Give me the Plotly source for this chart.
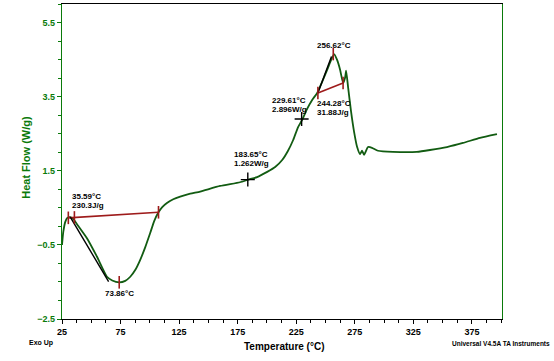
import plotly.graph_objects as go

# ---- Data ----
temperature = [25.0, 26.1, 27.8, 29.5, 32.1, 34.6, 38.9, 46.3, 54.9, 63.4, 67.9, 73.9, 79.0,
               83.3, 87.5, 91.7, 96.1, 100.3, 103.8, 107.4, 110.6, 114.6, 120.0, 125.9, 134.5,
               143.0, 160.0, 177.0, 184.0, 191.6, 200.2, 207.0, 213.0, 218.0, 222.4, 226.6,
               230.0, 234.3, 238.6, 242.9, 247.1, 251.4, 254.8, 257.3, 259.9, 262.5, 265.0,
               266.7, 267.6, 269.3, 271.8, 274.4, 277.0, 279.5, 281.2, 282.9, 286.3, 289.7,
               294.8, 307.6, 328.0, 339.2, 353.7, 367.4, 381.9, 396.4]
heat_flow = [-0.50, -0.15, 0.12, 0.23, 0.25, 0.20, 0.01, -0.32, -0.82, -1.36, -1.46, -1.51, -1.47,
             -1.36, -1.18, -0.91, -0.56, -0.18, 0.15, 0.38, 0.52, 0.63, 0.73, 0.80, 0.88,
             0.94, 1.09, 1.19, 1.26, 1.33, 1.47, 1.60, 1.79, 2.04, 2.33, 2.68,
             2.87, 3.17, 3.41, 3.60, 3.90, 4.22, 4.49, 4.65, 4.49, 4.22, 3.87,
             4.01, 4.20, 3.75, 3.10, 2.55, 2.14, 1.95, 2.04, 1.93, 2.14, 2.12,
             2.04, 2.01, 2.01, 2.06, 2.14, 2.25, 2.39, 2.49]

# integration baselines
base1_t = [30.4, 107.4]
base1_h = [0.23, 0.38]
base2_t = [243.5, 265.0]
base2_h = [3.60, 3.87]

# onset tangent lines
tan1_t = [32.1, 64.8]
tan1_h = [0.25, -1.49]
tan2_t = [243.5, 255.1]
tan2_h = [3.60, 4.58]

# red tick marks on the analysed peaks
tick_t = [30.4, 35.59, 73.86, 107.4, 243.5, 256.62, 265.0]
tick_h = [0.23, 0.24, -1.51, 0.38, 3.60, 4.65, 3.87]

# glass-transition style cross markers
cross_t = [183.65, 229.61]
cross_h = [1.262, 2.896]

x_ticks = [25, 75, 125, 175, 225, 275, 325, 375]
y_ticks = [-2.5, -0.5, 1.5, 3.5, 5.5]

GREEN_AX = "#0a7a0a"
GREEN_LINE = "#125c12"
RED = "#9e1b1b"
FONT = "Liberation Sans, Arial, sans-serif"

fig = go.Figure()
fig.add_trace(go.Scatter(x=temperature, y=heat_flow, mode="lines",
                         line=dict(color=GREEN_LINE, width=1.8, shape="spline", smoothing=0.5),
                         hoverinfo="skip"))
fig.add_trace(go.Scatter(x=base1_t, y=base1_h, mode="lines", line=dict(color=RED, width=1.6)))
fig.add_trace(go.Scatter(x=base2_t, y=base2_h, mode="lines", line=dict(color=RED, width=1.6)))
fig.add_trace(go.Scatter(x=tan1_t, y=tan1_h, mode="lines", line=dict(color="black", width=1.4)))
fig.add_trace(go.Scatter(x=tan2_t, y=tan2_h, mode="lines", line=dict(color="black", width=1.4)))
fig.add_trace(go.Scatter(x=tick_t, y=tick_h, mode="markers",
                         marker=dict(symbol="line-ns", size=9, line=dict(color=RED, width=1.6))))
fig.add_trace(go.Scatter(x=cross_t, y=cross_h, mode="markers",
                         marker=dict(symbol="cross-thin", size=10, line=dict(color="black", width=1.4))))

lab = dict(family=FONT, size=8, color="black", weight="bold")
notes = [
    # (x, y, text, xanchor, xshift, yshift)
    (35.59, 0.24, "35.59°C", "left", -4, 20.5),
    (35.59, 0.24, "230.3J/g", "left", -4, 12),
    (73.86, -1.51, "73.86°C", "center", 0.5, -10.7),
    (183.65, 1.262, "183.65°C", "left", -15.6, 24.7),
    (183.65, 1.262, "1.262W/g", "left", -15.6, 15.7),
    (229.61, 2.896, "229.61°C", "left", -31.5, 18.2),
    (229.61, 2.896, "2.896W/g", "left", -31.5, 9.2),
    (244.28, 3.60, "244.28°C", "left", -3.7, -10.9),
    (244.28, 3.60, "31.88J/g", "left", -3.7, -19.9),
    (256.62, 4.65, "256.62°C", "center", 0.8, 8.2),
]
for x, y, t, xa, xs, ys in notes:
    fig.add_annotation(x=x, y=y, xref="x", yref="y", text=t, showarrow=False,
                       xanchor=xa, yanchor="middle", xshift=xs, yshift=ys, font=lab)

fig.add_annotation(xref="paper", yref="paper", x=0.5, y=0, text="Temperature (°C)",
                   showarrow=False, xanchor="center", yanchor="middle", xshift=2, yshift=-27,
                   font=dict(family=FONT, size=10, color="black", weight="bold"))
fig.add_annotation(xref="paper", yref="paper", x=0, y=0.5, text="Heat Flow (W/g)",
                   textangle=-90, showarrow=False, xanchor="center", yanchor="middle",
                   xshift=-36.7, yshift=4,
                   font=dict(family=FONT, size=11, color=GREEN_AX, weight="bold"))
fig.add_annotation(xref="paper", yref="paper", x=0, y=0, text="Exo Up",
                   showarrow=False, xanchor="center", yanchor="middle", xshift=-20.7, yshift=-24,
                   font=dict(family=FONT, size=7, color="black", weight="bold"))
fig.add_annotation(xref="paper", yref="paper", x=1, y=0, text="Universal V4.5A TA Instruments",
                   showarrow=False, xanchor="center", yanchor="middle", xshift=-1.5, yshift=-24,
                   font=dict(family=FONT, size=6.5, color="black", weight="bold"))

fig.update_layout(
    width=554, height=361, showlegend=False,
    margin=dict(l=62, r=52, t=4, b=42),
    paper_bgcolor="white", plot_bgcolor="white",
    xaxis=dict(range=[25, 400.7], tickvals=x_ticks, showgrid=False, zeroline=False,
               showline=True, linecolor="black", linewidth=1.2, mirror=True,
               ticks="outside", ticklen=4, tickcolor="black",
               tickfont=dict(family=FONT, size=9, color="black", weight="bold"),
               minor=dict(dtick=12.5, tick0=25, ticks="outside", ticklen=3, tickcolor="black")),
    yaxis=dict(range=[-2.5, 6.0], tickvals=y_ticks, showgrid=False, zeroline=False,
               showline=True, linecolor=GREEN_AX, linewidth=1.2, mirror=True,
               ticks="outside", ticklen=4, tickcolor=GREEN_AX,
               tickfont=dict(family=FONT, size=9, color=GREEN_AX, weight="bold"),
               minor=dict(dtick=0.5, tick0=-2.5, ticks="outside", ticklen=3, tickcolor=GREEN_AX)),
)

fig.write_html("out.html", config={"displayModeBar": False},
               post_script="document.body.style.margin='0';")
